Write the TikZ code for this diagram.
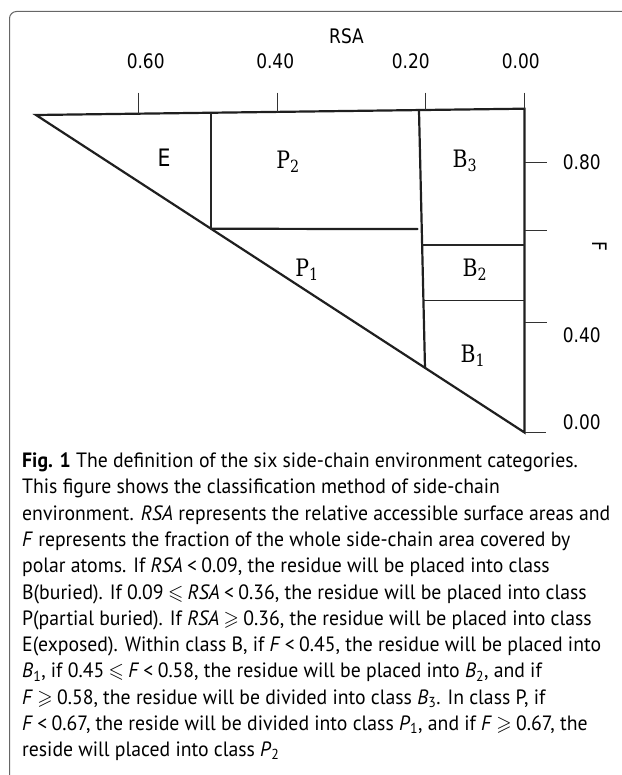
\documentclass[tikz,border=0pt]{standalone}
\usepackage{fontspec}
\usepackage{amssymb}
\usetikzlibrary{calc}
\newfontfamily\capfont{PT Sans}
\newfontfamily\axfont[FakeStretch=0.85]{DejaVu Sans}
\newfontfamily\serfont[FakeStretch=0.85]{DejaVu Serif}
\newcommand{\clt}{\hspace{0.22em}<\hspace{0.22em}}
\newcommand{\cle}{\hspace{0.22em}$\leqslant$\hspace{0.22em}}
\newcommand{\cge}{\hspace{0.22em}$\geqslant$\hspace{0.22em}}
\newcommand{\reg}[2]{#1\textsubscript{#2}}
\newcommand{\capsize}{\capfont\fontsize{20.7}{26}\selectfont}
\newsavebox{\refbox}
\newcommand{\capfit}[1]{\scalebox{\capscale}[1]{#1}}
\tikzset{
  heavy/.style={line width=2.2pt, draw=black!88, line cap=round},
  light/.style={line width=1.2pt, draw=black!85},
  tickline/.style={line width=1.1pt, draw=black!80},
  axlab/.style={font=\axfont\fontsize{20}{24}\selectfont, inner sep=0pt},
  sanslab/.style={font=\axfont\fontsize{24}{28}\selectfont, inner sep=0pt},
  reglab/.style={font=\serfont\fontsize{24}{28}\selectfont, inner sep=0pt},
  capline/.style={font=\capsize, anchor=base west, inner sep=0pt},
}
\begin{document}
\sbox{\refbox}{\capsize environment. \textit{RSA} represents the relative accessible surface areas and}%
\pgfmathsetmacro{\capscale}{588/\the\wd\refbox}%
\begin{tikzpicture}[x=1pt,y=-1pt]
\useasboundingbox (0,0) rectangle (621,775);
% frame
\draw[black!60, line width=1pt, rounded corners=7pt] (9.5,780) -- (9.5,11.5) -- (630,11.5);

% main points
\coordinate (A) at (36,115);
\coordinate (TR) at (524.5,108.7);
\coordinate (T) at (524.5,432.5);
\coordinate (J1) at ($(A)!0.3582!(T)$);
\coordinate (JT) at ($(A)!0.3582!(TR)$);
\coordinate (Bb) at ($(A)!0.7963!(T)$);
\coordinate (Bt) at ($(A)!0.784!(TR)$);
\coordinate (Pe) at (417.5,229.1);
\coordinate (L1a) at (421.5,245);
\coordinate (L1b) at (524.5,245);
\coordinate (L2a) at (423,300.7);
\coordinate (L2b) at (524.5,300.7);

% triangle outline
\draw[heavy] (A) -- (TR) -- (T) -- cycle;
% B3 vertical
\draw[heavy] (Bt) -- (Bb);
% P1/P2 horizontal
\draw[heavy] (J1) -- (Pe);
% E/P2 vertical
\draw[light] (JT) -- (J1);
% B sub-divisions
\draw[light] (L1a) -- (L1b);
\draw[light] (L2a) -- (L2b);

% top ticks
\coordinate (t1a) at (138.6,92.7); \coordinate (t1b) at (138.6,113.7);
\coordinate (t2a) at (277.2,92.7); \coordinate (t2b) at (277.2,111.9);
\coordinate (t3a) at (425.7,92.7); \coordinate (t3b) at (425.7,110);
\coordinate (t4a) at (524.5,92.7); \coordinate (t4b) at (524.5,108.7);
\draw[tickline] (t1a) -- (t1b);
\draw[tickline] (t2a) -- (t2b);
\draw[tickline] (t3a) -- (t3b);
\draw[tickline] (t4a) -- (t4b);

% right ticks
\coordinate (r1a) at (524.5,162.7); \coordinate (r1b) at (547,162.7);
\coordinate (r2a) at (524.5,230.7); \coordinate (r2b) at (547,230.7);
\coordinate (r3a) at (524.5,322.7); \coordinate (r3b) at (547,322.7);
\coordinate (r4b) at (546,432.5);
\draw[tickline] (r1a) -- (r1b);
\draw[tickline] (r2a) -- (r2b);
\draw[tickline] (r3a) -- (r3b);
\draw[tickline] (T) -- (r4b);

% axis labels
\node[axlab] (rsa) at (346.5,36) {RSA};
\node[axlab] (x60) at (145.7,61.5) {0.60};
\node[axlab] (x40) at (275.2,61.5) {0.40};
\node[axlab] (x20) at (410.7,61.5) {0.20};
\node[axlab] (x00) at (520.8,61.5) {0.00};
\node[axlab] (y80) at (581.7,162.7) {0.80};
\node[axlab] (y40) at (581.7,335) {0.40};
\node[axlab] (y00) at (581.7,422) {0.00};
\node[axlab, rotate=-90] (F) at (599.3,246) {F};

% region labels
\node[sanslab] (E) at (164,158) {E};
\node[reglab] (P2) at (288,162) {\reg{P}{2}};
\node[reglab] (B3) at (465,161) {\reg{B}{3}};
\node[reglab] (P1) at (307,270) {\reg{P}{1}};
\node[reglab] (B2) at (475,270) {\reg{B}{2}};
\node[reglab] (B1) at (473,356) {\reg{B}{1}};

% caption
\node[capline] (c1) at (22,467.5) {\capfit{\textbf{Fig. 1} The definition of the six side-chain environment categories.}};
\node[capline] (c2) at (22,493.8) {\capfit{This figure shows the classification method of side-chain}};
\node[capline] (c3) at (22,520.1) {\capfit{environment. \textit{RSA} represents the relative accessible surface areas and}};
\node[capline] (c4) at (22,546.4) {\capfit{\textit{F} represents the fraction of the whole side-chain area covered by}};
\node[capline] (c5) at (22,572.7) {\capfit{polar atoms. If \textit{RSA}\clt 0.09, the residue will be placed into class}};
\node[capline] (c6) at (22,599) {\capfit{B(buried). If 0.09\cle\textit{RSA}\clt 0.36, the residue will be placed into class}};
\node[capline] (c7) at (22,625.3) {\capfit{P(partial buried). If \textit{RSA}\cge 0.36, the residue will be placed into class}};
\node[capline] (c8) at (22,651.6) {\capfit{E(exposed). Within class B, if \textit{F}\clt 0.45, the residue will be placed into}};
\node[capline] (c9) at (22,677.9) {\capfit{\textit{B}\textsubscript{1}, if 0.45\cle\textit{F}\clt 0.58, the residue will be placed into \textit{B}\textsubscript{2}, and if}};
\node[capline] (c10) at (22,704.2) {\capfit{\textit{F}\cge 0.58, the residue will be divided into class \textit{B}\textsubscript{3}. In class P, if}};
\node[capline] (c11) at (22,730.5) {\capfit{\textit{F}\clt 0.67, the reside will be divided into class \textit{P}\textsubscript{1}, and if \textit{F}\cge 0.67, the}};
\node[capline] (c12) at (22,756.8) {\capfit{reside will placed into class \textit{P}\textsubscript{2}}};
\end{tikzpicture}
\end{document}
